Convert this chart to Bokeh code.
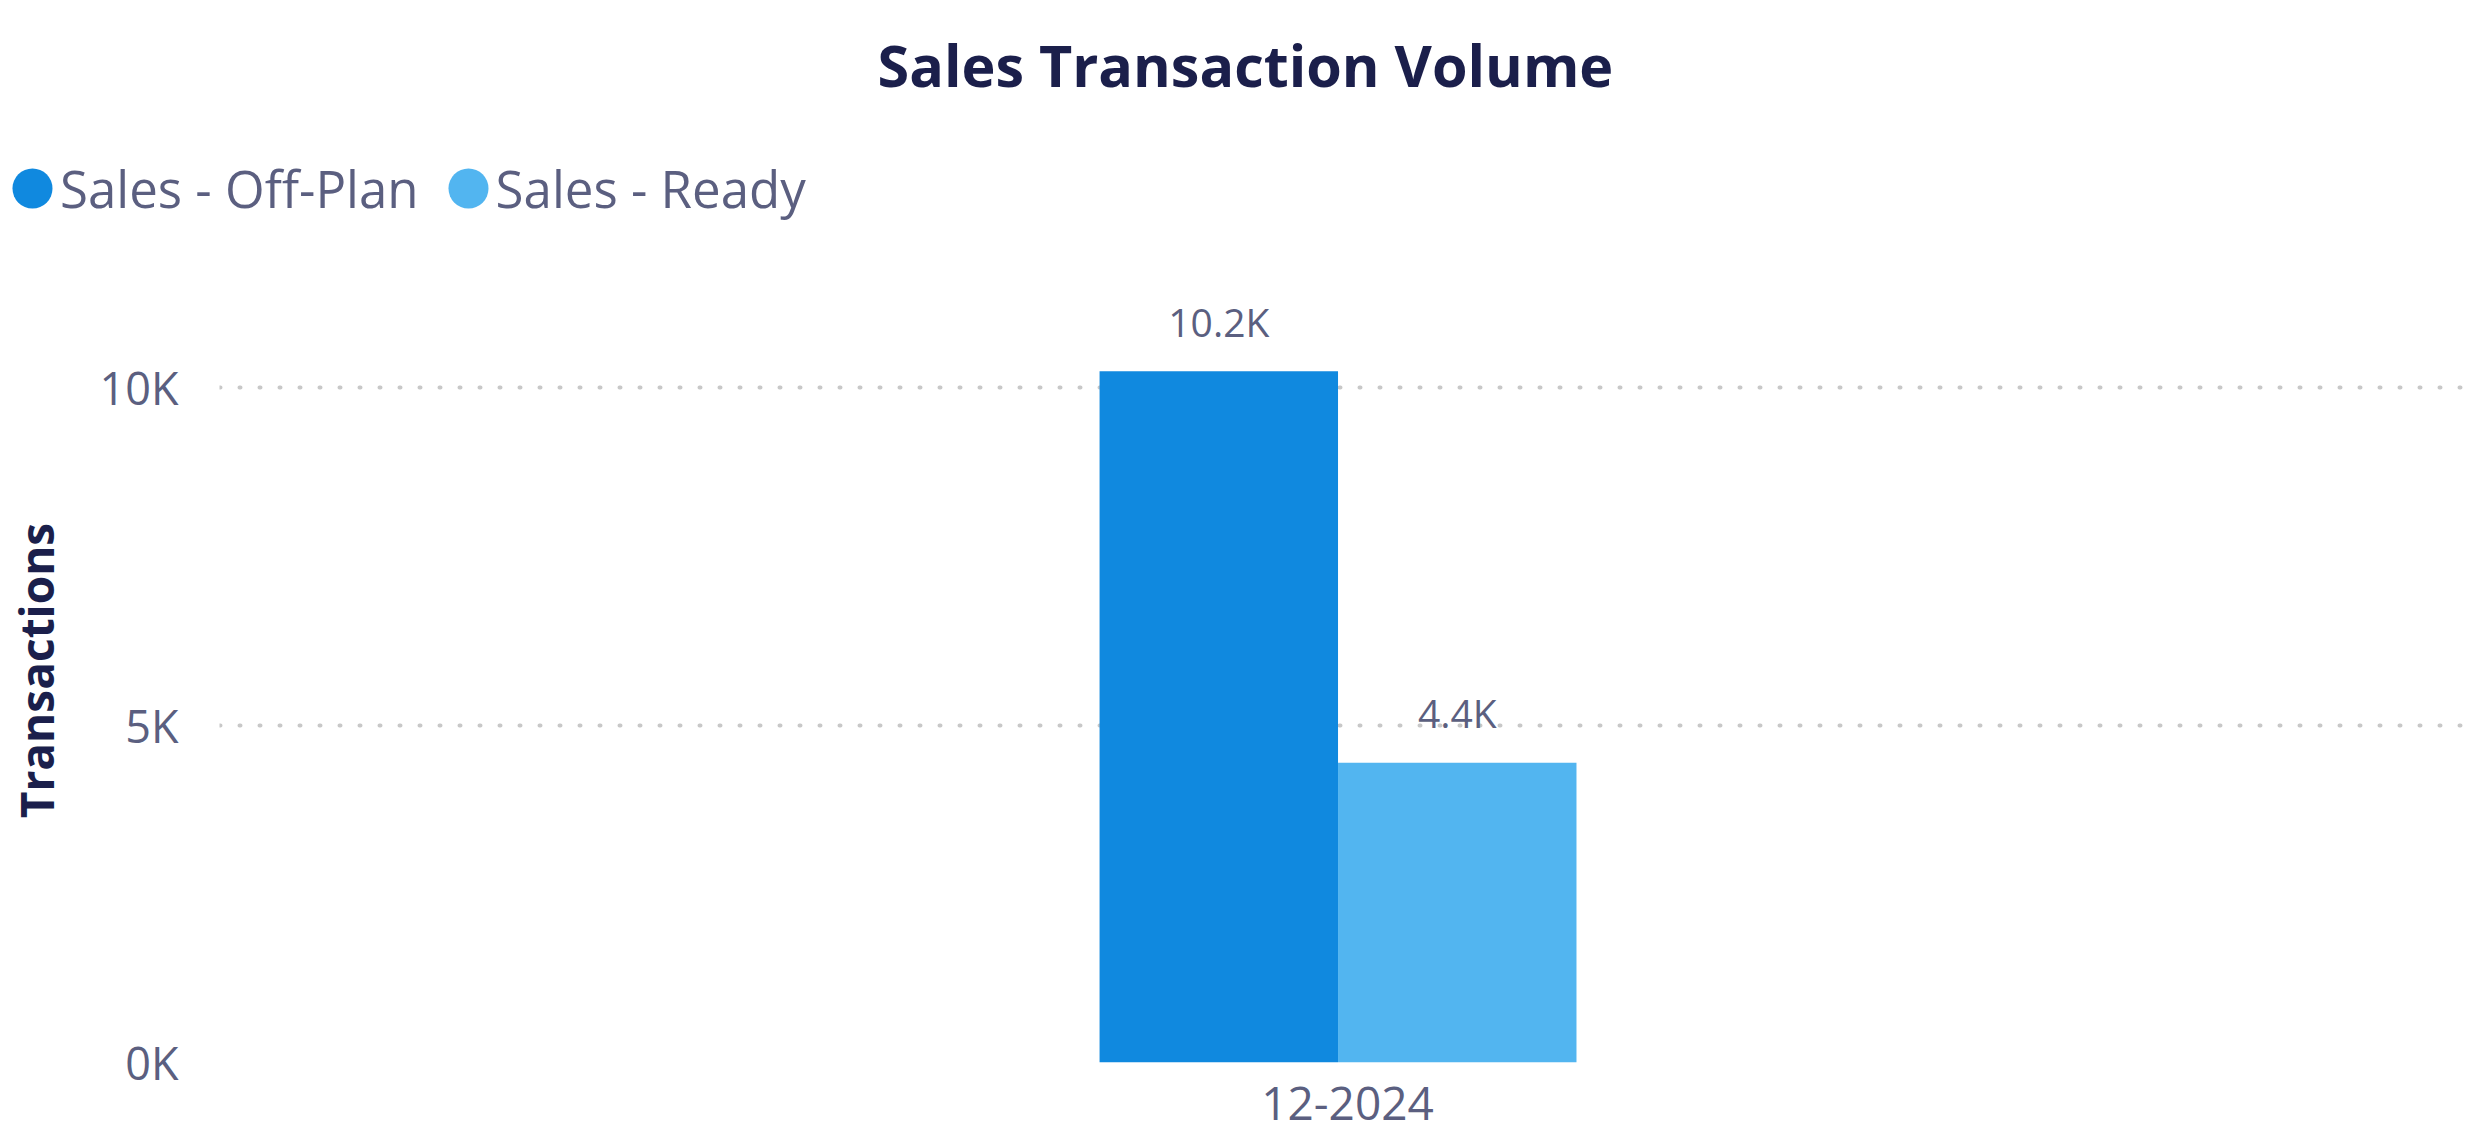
from bokeh.plotting import figure
from bokeh.layouts import column
from bokeh.models import (ColumnDataSource, FactorRange, Range1d, LabelSet,
                          Legend, LegendItem)
from bokeh.transform import dodge
from bokeh.core.properties import value
from bokeh.embed import file_html
from bokeh.resources import INLINE

# ---- data ----
categories = ["12-2024"]
series_names = ["Sales - Off-Plan", "Sales - Ready"]
off_plan = [10240]
ready = [4440]
y_ticks = [0, 5000, 10000]
y_tick_labels = ["0K", "5K", "10K"]

# ---- style ----
FONT = "Open Sans"
TEXT = "#5B5F80"
NAVY = "#1B1F4B"
BLUE = "#1089DF"
LIGHT = "#52B5F0"
GRID = "#C8C8C8"

W = 2485
HEADER_H = 278
FRAME_L = 219
FRAME_W, FRAME_H = 2256, 784
PX_PER_UNIT = 337.5 / 5000.0
Y_MAX = FRAME_H / PX_PER_UNIT


def fmt(v):
    return f"{v / 1000:.1f}K"


source = ColumnDataSource(dict(
    cat=categories,
    off=off_plan,
    ready=ready,
    off_lbl=[fmt(v) for v in off_plan],
    ready_lbl=[fmt(v) for v in ready],
))

x_range = FactorRange(factors=categories, range_padding=0)

# ---------------- header: title + legend ----------------
TITLE_TOP = 108
header = figure(
    x_range=x_range, y_range=Range1d(0, 1),
    frame_width=W, frame_height=HEADER_H - TITLE_TOP,
    min_border_left=0, min_border_right=0, min_border_top=TITLE_TOP,
    min_border_bottom=0, x_axis_type=None, y_axis_type=None,
    output_backend="svg", toolbar_location=None,
    title="Sales Transaction Volume",
)
header.outline_line_color = None
header.title.text_font = FONT
header.title.text_font_style = "bold"
header.title.text_font_size = "57.5px"
header.title.text_color = NAVY
header.title.align = "left"
header.title.offset = 658
header.title.standoff = 10

# legend swatches (outside the header's visible y-range, only used for the legend)
sw_off = header.ellipse(x="cat", y="off", width=10, height=10,
                        width_units="screen", height_units="screen",
                        source=source, fill_color=BLUE, line_color=None)
sw_ready = header.ellipse(x="cat", y="ready", width=10, height=10,
                          width_units="screen", height_units="screen",
                          source=source, fill_color=LIGHT, line_color=None)
legend = Legend(
    items=[LegendItem(label=series_names[0], renderers=[sw_off]),
           LegendItem(label=series_names[1], renderers=[sw_ready])],
    location=(7, 55), orientation="horizontal",
    glyph_width=50, glyph_height=70, label_standoff=3, spacing=24,
    padding=0, margin=0, background_fill_alpha=0, border_line_alpha=0,
    label_text_font=FONT, label_text_font_size="51px", label_text_color=TEXT,
)
header.add_layout(legend)

# ---------------- main chart ----------------
p = figure(
    x_range=x_range, y_range=Range1d(0, Y_MAX),
    frame_width=FRAME_W, frame_height=FRAME_H,
    min_border_left=FRAME_L, min_border_right=W - FRAME_L - FRAME_W,
    min_border_top=0, min_border_bottom=81,
    output_backend="svg", toolbar_location=None, title=None,
)
p.outline_line_color = None
p.background_fill_color = "white"
p.border_fill_color = "white"

BAR_W = 0.1057
SHIFT = -0.0042
OFF = BAR_W / 2

p.vbar(x=dodge("cat", SHIFT - OFF, range=p.x_range), top="off", width=BAR_W,
       source=source, fill_color=BLUE, line_color=None)
p.vbar(x=dodge("cat", SHIFT + OFF, range=p.x_range), top="ready", width=BAR_W,
       source=source, fill_color=LIGHT, line_color=None)

for col, lbl, sign in (("off", "off_lbl", -1), ("ready", "ready_lbl", 1)):
    p.add_layout(LabelSet(
        x=dodge("cat", SHIFT + sign * OFF, range=p.x_range), y=col, text=lbl,
        source=source, text_align="center", text_baseline="middle",
        y_offset=50, text_font=value(FONT), text_font_size=value("39px"),
        text_color=TEXT))

# axes
p.yaxis.ticker = y_ticks
p.yaxis.major_label_overrides = {t: l for t, l in zip(y_ticks, y_tick_labels)}
for ax in (p.xaxis, p.yaxis):
    ax.axis_line_color = None
    ax.major_tick_line_color = None
    ax.minor_tick_line_color = None
    ax.major_tick_out = 0
    ax.major_tick_in = 0
    ax.major_label_text_font = FONT
    ax.major_label_text_color = TEXT
p.yaxis.major_label_text_font_size = "45px"
p.yaxis.major_label_standoff = 41
p.yaxis.axis_label = "Transactions"
p.yaxis.axis_label_text_font = FONT
p.yaxis.axis_label_text_font_style = "bold"
p.yaxis.axis_label_text_font_size = "46px"
p.yaxis.axis_label_text_color = NAVY
p.yaxis.axis_label_standoff = 29
p.xaxis.major_label_text_font_size = "46px"
p.xaxis.major_label_standoff = 24

p.xgrid.visible = False
p.ygrid.grid_line_color = GRID
p.ygrid.grid_line_dash = "1 19"
p.ygrid.grid_line_width = 4
p.ygrid.grid_line_cap = "round"

layout = column(header, p, spacing=0)
open("out.html", "w").write(file_html(layout, INLINE))
